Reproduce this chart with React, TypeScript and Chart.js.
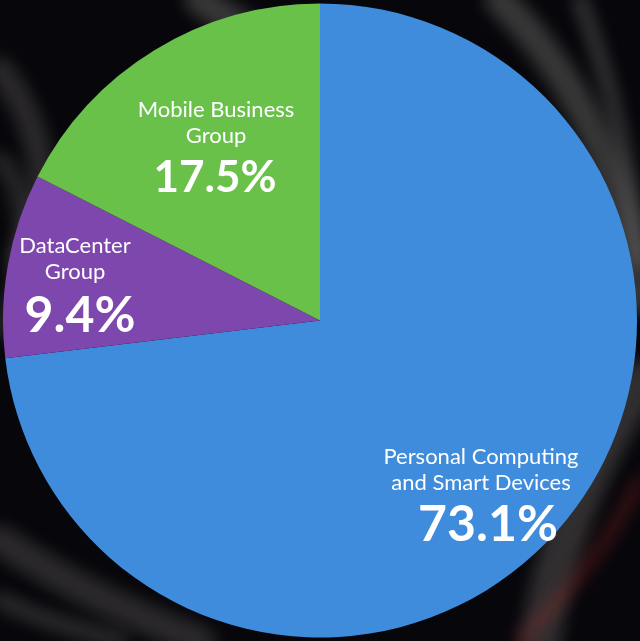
import React, { useEffect, useRef } from "react";
import { Chart, registerables } from "chart.js";

Chart.register(...registerables);

const categories = [
  "Personal Computing and Smart Devices",
  "DataCenter Group",
  "Mobile Business Group",
];
const shares = [73.1, 9.4, 17.5];
const labelLines = [
  ["Personal Computing", "and Smart Devices"],
  ["DataCenter", "Group"],
  ["Mobile Business", "Group"],
];
const colors = ["#3f8cdc", "#7e47ad", "#69c14a"];

// label anchor points (center x, first line y) and big text sizes
const labelPos = [
  { x: 481, y: 457, big: 50, bigY: 525, bigX: 488 },
  { x: 75, y: 246, big: 50, bigY: 316, bigX: 80 },
  { x: 216, y: 110, big: 44, bigY: 178, bigX: 215 },
];

const bgPlugin = {
  id: "bg",
  beforeDraw(chart: any) {
    const { ctx, width, height } = chart;
    ctx.save();
    ctx.fillStyle = "#07070b";
    ctx.fillRect(0, 0, width, height);
    const streak = (pts: number[], w: number, color: string) => {
      ctx.beginPath();
      ctx.moveTo(pts[0], pts[1]);
      ctx.bezierCurveTo(pts[2], pts[3], pts[4], pts[5], pts[6], pts[7]);
      ctx.lineWidth = w;
      ctx.strokeStyle = color;
      ctx.lineCap = "round";
      ctx.stroke();
    };
    ctx.filter = "blur(8px)";
    streak([200, 0, 260, 40, 330, 80, 380, 120], 30, "rgba(170,165,160,0.3)");
    streak([0, 70, 40, 120, 60, 200, 20, 260], 25, "rgba(150,145,140,0.25)");
    streak([0, 330, 20, 300, 40, 200, 0, 160], 18, "rgba(140,135,130,0.25)");
    streak([500, 0, 560, 60, 620, 150, 640, 300], 30, "rgba(170,165,160,0.3)");
    streak([580, 0, 610, 80, 630, 160, 640, 260], 14, "rgba(200,195,190,0.25)");
    streak([640, 380, 600, 450, 560, 520, 540, 641], 40, "rgba(150,140,135,0.3)");
    streak([640, 480, 600, 560, 560, 600, 520, 641], 10, "rgba(170,40,40,0.4)");
    streak([0, 540, 60, 580, 120, 610, 200, 641], 30, "rgba(150,145,140,0.25)");
    streak([0, 600, 40, 620, 80, 630, 120, 641], 16, "rgba(160,155,150,0.25)");
    ctx.filter = "none";
    ctx.restore();
  },
};

const labelPlugin = {
  id: "sliceLabels",
  afterDatasetsDraw(chart: any) {
    const { ctx } = chart;
    ctx.save();
    ctx.fillStyle = "#ffffff";
    ctx.textAlign = "center";
    ctx.textBaseline = "middle";
    shares.forEach((v, i) => {
      const p = labelPos[i];
      ctx.font = "22px Lato, 'Open Sans', sans-serif";
      labelLines[i].forEach((line, j) => {
        ctx.fillText(line, p.x, p.y + j * 26);
      });
      ctx.font = `bold ${p.big}px Lato, 'Open Sans', sans-serif`;
      ctx.fillText(`${v.toFixed(1)}%`, p.bigX, p.bigY);
    });
    ctx.restore();
  },
};

export default function App() {
  const ref = useRef<HTMLCanvasElement>(null);
  useEffect(() => {
    document.body.style.margin = "0";
    const chart = new Chart(ref.current!, {
      type: "pie",
      data: {
        labels: categories,
        datasets: [
          {
            data: shares,
            backgroundColor: colors,
            borderWidth: 0,
          },
        ],
      },
      options: {
        animation: false,
        responsive: false,
        layout: { padding: 3 },
        plugins: { legend: { display: false }, tooltip: { enabled: false } },
      },
      plugins: [bgPlugin, labelPlugin],
    });
    return () => chart.destroy();
  }, []);
  return (
    <div style={{ width: 640, height: 641 }}>
      <canvas ref={ref} width={640} height={641} style={{ display: "block" }} />
    </div>
  );
}
